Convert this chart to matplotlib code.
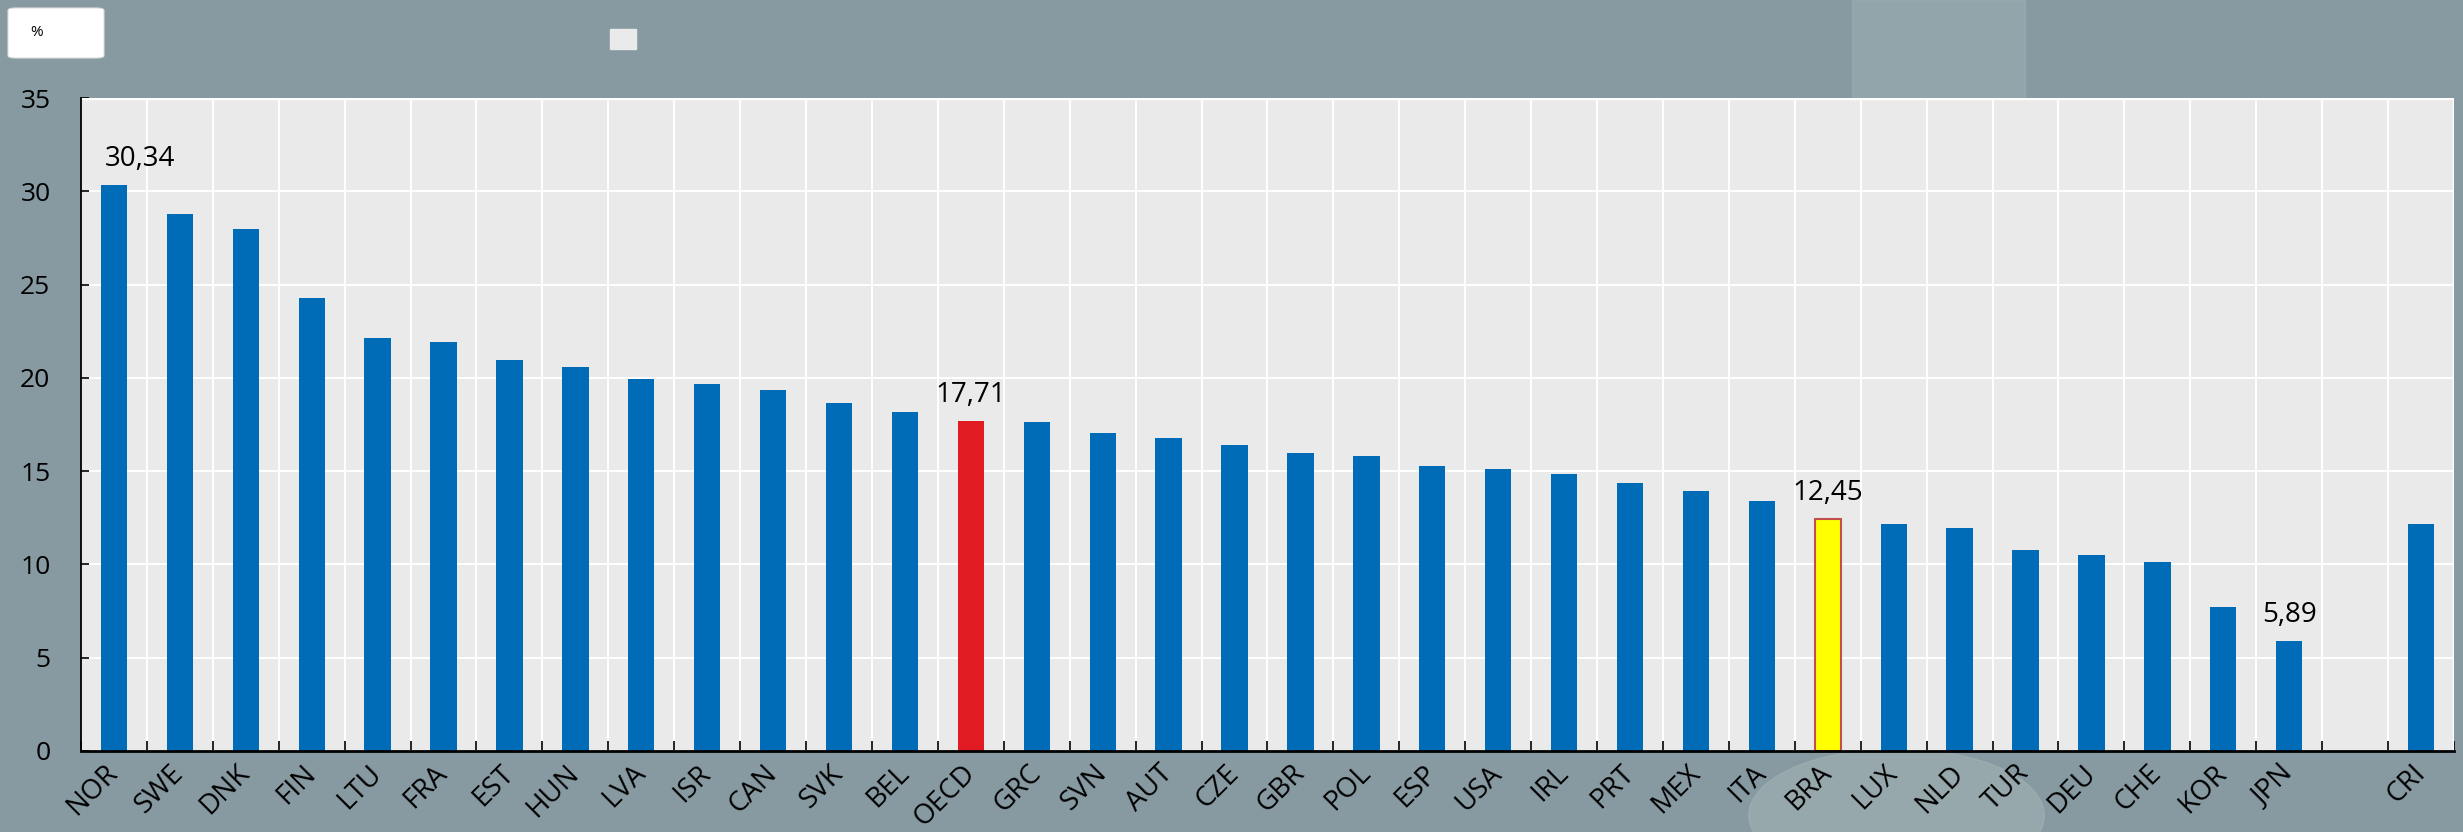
import numpy as np
import matplotlib.pyplot as plt
from matplotlib.patches import Rectangle, FancyBboxPatch, Ellipse, Arc
from matplotlib.transforms import ScaledTranslation

plt.rcParams['font.family'] = ['Open Sans', 'DejaVu Sans']

# data (blank slot between JPN and CRI)
countries = ['NOR', 'SWE', 'DNK', 'FIN', 'LTU', 'FRA', 'EST', 'HUN', 'LVA', 'ISR',
             'CAN', 'SVK', 'BEL', 'OECD', 'GRC', 'SVN', 'AUT', 'CZE', 'GBR', 'POL',
             'ESP', 'USA', 'IRL', 'PRT', 'MEX', 'ITA', 'BRA', 'LUX', 'NLD', 'TUR',
             'DEU', 'CHE', 'KOR', 'JPN', '', 'CRI']
values = [30.34, 28.80, 28.00, 24.26, 22.15, 21.90, 20.94, 20.57, 19.92, 19.69,
          19.37, 18.67, 18.17, 17.71, 17.66, 17.06, 16.79, 16.42, 15.97, 15.81,
          15.27, 15.10, 14.83, 14.36, 13.95, 13.42, 12.45, 12.16, 11.94, 10.77,
          10.49, 10.11, 7.70, 5.89, np.nan, 12.15]
labelled = ['NOR', 'OECD', 'BRA', 'JPN']
yticks = [0, 5, 10, 15, 20, 25, 30, 35]

BLUE = '#006bb6'
RED = '#e11b22'
YELLOW = '#ffff00'
highlight = {'OECD': (RED, 'none'), 'BRA': (YELLOW, '#c0504d')}

fig = plt.figure(figsize=(24.63, 8.32), dpi=100)
fig.patch.set_facecolor('#879aa2')

# soft photo-like background shapes (behind the axes)
fig.patches.append(Rectangle((0.752, 0.88), 0.07, 0.12, transform=fig.transFigure,
                             color='#a0b4b8', alpha=0.45, zorder=-2))
fig.patches.append(Arc((0.76, 0.0), 0.36, 2.2, theta1=100, theta2=127,
                       transform=fig.transFigure, color='#9db2b6', lw=12,
                       alpha=0.6, zorder=-2))
fig.patches.append(Ellipse((0.77, 0.02), 0.12, 0.16, transform=fig.transFigure,
                           color='#a3b2b4', alpha=0.6, zorder=-2))

ax = fig.add_axes([81 / 2463, 81 / 832, (2454 - 81) / 2463, 653 / 832])
ax.set_facecolor('#eaeaea')

x = np.arange(len(countries))
vals = np.array(values, dtype=float)
for i, (c, v) in enumerate(zip(countries, vals)):
    if np.isnan(v):
        continue
    fc, ec = highlight.get(c, (BLUE, 'none'))
    ax.bar(x[i], v, width=0.4, color=fc, edgecolor=ec, linewidth=1.5, zorder=3)
    if c in labelled:
        dx = 0.4 if c == 'NOR' else 0
        ax.annotate(f'{v:.2f}'.replace('.', ','), (x[i] + dx, v), xytext=(0, 13.5),
                    textcoords='offset points', ha='center', va='baseline',
                    fontsize=20, zorder=4)

ax.set_xlim(-0.5, len(countries) - 0.5)
ax.set_ylim(0, 35)
ax.set_yticks(yticks)
ax.set_yticklabels([str(t) for t in yticks], fontsize=19)
ax.set_xticks(x)
ax.set_xticklabels(countries, fontsize=20, rotation=45, ha='right', rotation_mode='anchor')
ax.set_xticks(np.arange(len(countries) + 1) - 0.5, minor=True)

ax.tick_params(axis='x', which='major', length=0, pad=6)
ax.tick_params(axis='x', which='minor', direction='in', length=7, width=1.2, color='black')
ax.tick_params(axis='y', direction='in', length=6, width=1.2, pad=22)
off = ScaledTranslation(-10 / 100, 0, fig.dpi_scale_trans)
for lab in ax.get_xticklabels():
    lab.set_transform(lab.get_transform() + off)

ax.grid(True, axis='y', which='major', color='white', lw=1.4, zorder=1)
ax.grid(True, axis='x', which='minor', color='white', lw=1.4, zorder=1)
ax.grid(False, axis='x', which='major')
ax.set_axisbelow(True)

for s in ['top', 'right']:
    ax.spines[s].set_visible(False)
ax.spines['left'].set_linewidth(1.3)
ax.spines['bottom'].set_linewidth(2.0)
ax.spines['left'].set_zorder(5)
ax.spines['bottom'].set_zorder(5)
# white top/right border of the plot area
ax.axhline(35, color='white', lw=2.5, zorder=2)
ax.axvline(len(countries) - 0.5, color='white', lw=2.5, zorder=2)

# unit box and empty legend square at the top
fig.patches.append(FancyBboxPatch((8 / 2463, 774 / 832), 96 / 2463, 50 / 832,
                                  boxstyle='round,pad=0,rounding_size=0.003',
                                  transform=fig.transFigure, facecolor='white',
                                  edgecolor='#dddddd', lw=0.8, zorder=2))
fig.text(30 / 2463, 800 / 832, '%', fontsize=11, va='center', ha='left')
fig.patches.append(Rectangle((610 / 2463, 783 / 832), 26 / 2463, 20 / 832,
                             transform=fig.transFigure, color='#eaeaea', zorder=2))

fig.savefig('out.png', dpi=100, facecolor=fig.get_facecolor())
